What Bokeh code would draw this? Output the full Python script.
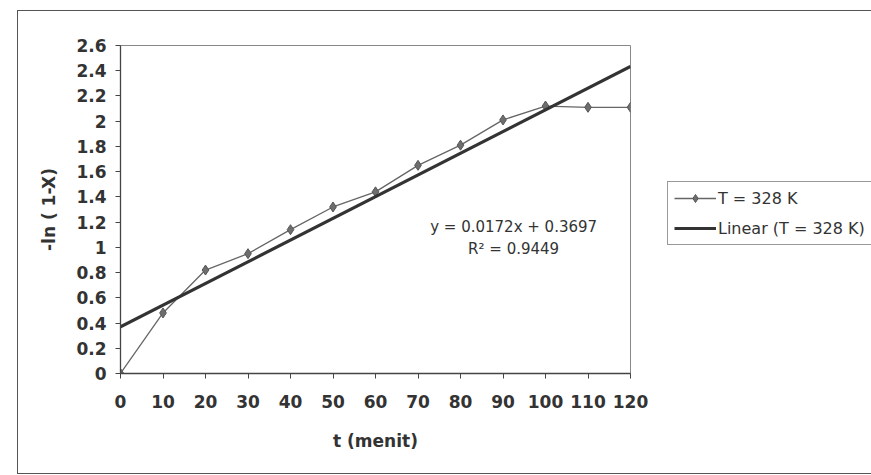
from bokeh.plotting import figure
from bokeh.models import Legend, LegendItem, Label, FixedTicker, Range1d, NumeralTickFormatter
from bokeh.embed import file_html
from bokeh.resources import INLINE

# ---- data ----
t_menit = [0, 10, 20, 30, 40, 50, 60, 70, 80, 90, 100, 110, 120]
neg_ln_1_minus_x = [0.0, 0.48, 0.82, 0.95, 1.14, 1.32, 1.44, 1.65, 1.81, 2.01, 2.12, 2.11, 2.11]
trend_slope = 0.0172
trend_intercept = 0.3697
r_squared = 0.9449
series_label = "T = 328 K"
trend_label = "Linear (T = 328 K)"
x_ticks = [0, 10, 20, 30, 40, 50, 60, 70, 80, 90, 100, 110, 120]
y_ticks = [0, 0.2, 0.4, 0.6, 0.8, 1.0, 1.2, 1.4, 1.6, 1.8, 2.0, 2.2, 2.4, 2.6]

fit_x = [t_menit[0], t_menit[-1]]
fit_y = [trend_intercept + trend_slope * v for v in fit_x]

FONT = "DejaVu Sans"

p = figure(frame_width=510, frame_height=328, output_backend="svg", toolbar_location=None,
           x_range=Range1d(0, 120), y_range=Range1d(0, 2.6),
           min_border_left=102, min_border_right=238, min_border_top=34, min_border_bottom=100)
p.margin = (10, 0, 0, 17)
p.styles = {"border-top": "1px solid #555", "border-left": "1px solid #555",
            "border-bottom": "1px solid #555"}
p.xgrid.visible = False
p.ygrid.visible = False
p.outline_line_color = "#888888"
p.outline_line_width = 1
p.background_fill_color = "white"
p.border_fill_color = "white"

for ax in (p.xaxis[0], p.yaxis[0]):
    ax.axis_line_color = "#444444"
    ax.axis_line_width = 1.3
    ax.major_tick_line_color = "#444444"
    ax.minor_tick_line_color = None
    ax.major_tick_in = 0
    ax.major_tick_out = 5
    ax.major_label_text_font = FONT
    ax.major_label_text_font_style = "bold"
    ax.major_label_text_font_size = "17px"
    ax.major_label_text_color = "#333333"
    ax.axis_label_text_font = FONT
    ax.axis_label_text_font_style = "bold"
    ax.axis_label_text_font_size = "17px"
    ax.axis_label_text_color = "#333333"

p.xaxis.ticker = FixedTicker(ticks=x_ticks)
p.yaxis.ticker = FixedTicker(ticks=y_ticks)
p.yaxis.formatter = NumeralTickFormatter(format="0.[0]")
p.xaxis.major_label_standoff = 16
p.yaxis.major_label_standoff = 9
p.xaxis.axis_label = "t (menit)"
p.yaxis.axis_label = "-ln ( 1-X)"
p.xaxis.axis_label_standoff = 20
p.yaxis.axis_label_standoff = 14

data_line = p.line(t_menit, neg_ln_1_minus_x, line_color="#666666", line_width=1.3)
data_pts = p.scatter(t_menit, neg_ln_1_minus_x, marker="diamond", size=10,
                     fill_color="#6e6e6e", line_color="#555555")
fit_line = p.line(fit_x, fit_y, line_color="#333333", line_width=3.2)

eq_text = "y = %.4fx + %.4f" % (trend_slope, trend_intercept)
r2_text = "R² = %.4f" % r_squared
p.add_layout(Label(x=92.5, y=1.165, text=eq_text, text_align="center", text_baseline="middle",
                   text_font=FONT, text_font_size="15px", text_color="#333333"))
p.add_layout(Label(x=92.5, y=0.985, text=r2_text, text_align="center", text_baseline="middle",
                   text_font=FONT, text_font_size="15px", text_color="#333333"))

legend = Legend(items=[LegendItem(label=series_label, renderers=[data_line, data_pts]),
                       LegendItem(label=trend_label, renderers=[fit_line])],
                location=(37, 128))
legend.border_line_color = "#333333"
legend.border_line_width = 1
legend.label_text_font = FONT
legend.label_text_font_size = "16px"
legend.label_text_color = "#333333"
legend.glyph_width = 42
legend.glyph_height = 20
legend.label_height = 20
legend.label_standoff = 2
legend.spacing = 10
legend.padding = 6
legend.margin = 0
legend.background_fill_alpha = 1
p.add_layout(legend, "right")

open("out.html", "w").write(file_html(p, INLINE))
